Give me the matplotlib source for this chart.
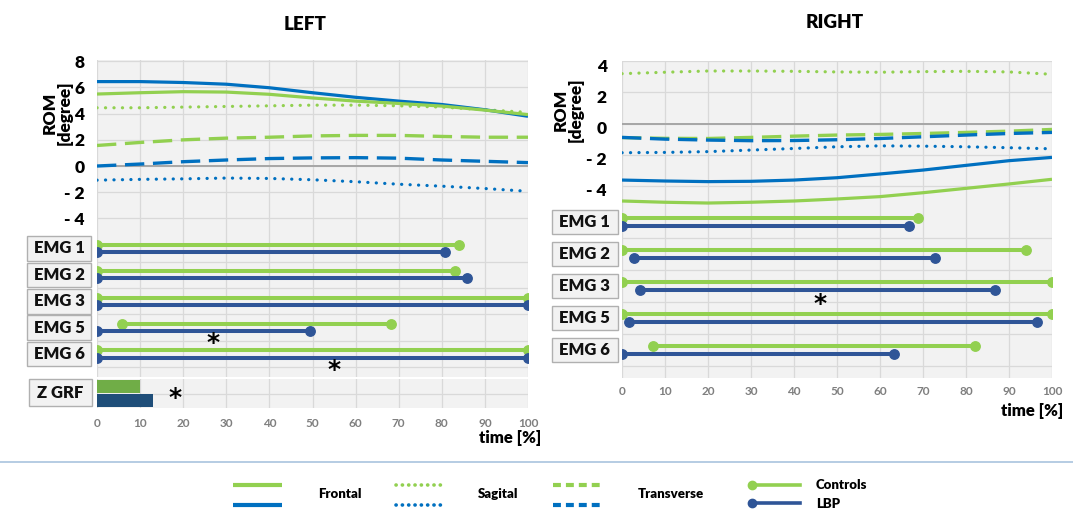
import matplotlib
matplotlib.use('Agg')
import matplotlib.pyplot as plt
from matplotlib.lines import Line2D
from matplotlib.patches import Rectangle
import matplotlib.transforms as mtransforms

plt.rcParams['font.family'] = ['Lato', 'DejaVu Sans']
BOLD = 'heavy'

# ---------------- data ----------------
time_pct = [0, 10, 20, 30, 40, 50, 60, 70, 80, 90, 100]

# LEFT ROM (degree)
left_frontal_controls = [5.50, 5.60, 5.68, 5.65, 5.48, 5.20, 4.96, 4.78, 4.58, 4.27, 3.93]
left_frontal_lbp = [6.45, 6.45, 6.38, 6.25, 5.98, 5.60, 5.25, 4.96, 4.70, 4.30, 3.80]
left_sagital_controls = [4.45, 4.45, 4.50, 4.55, 4.60, 4.65, 4.65, 4.60, 4.50, 4.30, 4.10]
left_sagital_lbp = [-1.08, -1.02, -0.98, -0.92, -0.95, -1.05, -1.20, -1.39, -1.54, -1.72, -1.93]
left_transverse_controls = [1.57, 1.80, 2.00, 2.13, 2.20, 2.30, 2.34, 2.34, 2.26, 2.20, 2.20]
left_transverse_lbp = [0.00, 0.15, 0.33, 0.46, 0.57, 0.62, 0.64, 0.60, 0.46, 0.36, 0.26]

# RIGHT ROM (degree)
right_frontal_controls = [-4.96, -5.04, -5.09, -5.04, -4.96, -4.83, -4.68, -4.43, -4.15, -3.87, -3.57]
right_frontal_lbp = [-3.62, -3.68, -3.72, -3.70, -3.62, -3.47, -3.23, -2.98, -2.68, -2.38, -2.17]
right_sagital_controls = [3.19, 3.28, 3.36, 3.36, 3.34, 3.30, 3.28, 3.32, 3.34, 3.30, 3.15]
right_sagital_lbp = [-1.87, -1.85, -1.80, -1.70, -1.60, -1.49, -1.43, -1.45, -1.49, -1.55, -1.62]
right_transverse_controls = [-0.90, -0.95, -0.96, -0.89, -0.81, -0.74, -0.70, -0.64, -0.57, -0.49, -0.38]
right_transverse_lbp = [-0.89, -1.00, -1.06, -1.10, -1.09, -1.04, -0.96, -0.85, -0.74, -0.64, -0.57]

emg_labels = ['EMG 1', 'EMG 2', 'EMG 3', 'EMG 5', 'EMG 6']
# (onset, offset) in % of time
left_emg_controls = [(0, 84.1), (0, 83.1), (0, 100), (5.9, 68.3), (0, 100)]
left_emg_lbp = [(0, 80.8), (0, 85.8), (0, 100), (0, 49.4), (0, 100)]
right_emg_controls = [(0, 68.8), (0, 94.0), (0, 100), (0, 100), (7.1, 82.2)]
right_emg_lbp = [(0, 66.7), (2.9, 72.9), (4.2, 86.7), (1.6, 96.4), (0, 63.2)]
# significance markers: (row index, time %)
left_emg_sig = [(3, 27.0), (4, 55.0)]
right_emg_sig = [(2, 46.0)]

zgrf_groups = ['Controls', 'LBP']
zgrf_values = [10, 13]
zgrf_sig_x = 18

ytick_left = [-4, -2, 0, 2, 4, 6, 8]
ytick_right = [-4, -2, 0, 2, 4]
xticks = list(range(0, 101, 10))

# ---------------- style ----------------
W, H = 1073, 512
GREEN = '#92d050'
BLUE = '#0070c0'
EMG_GREEN = '#92d050'
EMG_BLUE = '#2f5597'
Z_GREEN = '#70ad47'
Z_BLUE = '#1f4e79'
BG = '#f2f2f2'
GRID = '#d9d9d9'
ZERO = '#a6a6a6'
TICKGRAY = '#7f7f7f'

fig = plt.figure(figsize=(W / 100, H / 100), dpi=100)


def add_ax(x0, y0, x1, y1):
    ax = fig.add_axes([x0 / W, 1 - y1 / H, (x1 - x0) / W, (y1 - y0) / H])
    ax.set_facecolor(BG)
    for s in ax.spines.values():
        s.set_visible(False)
    ax.tick_params(length=0)
    ax.set_xlim(0, 100)
    ax.set_xticks(xticks)
    ax.grid(True, color=GRID, lw=0.9)
    ax.set_axisbelow(True)
    return ax


def star(ax, x, y, transform=None):
    tr = ax.transData if transform is None else transform
    tr = tr + mtransforms.ScaledTranslation(0, -7.5 / 72, fig.dpi_scale_trans)
    ax.text(x, y, '*', transform=tr, ha='center', va='baseline', fontsize=18,
            fontweight='bold', family='DejaVu Sans', color='black')


def fmt_deg(v):
    return '- %d' % (-v) if v < 0 else '%d' % v


def rom_panel(ax, series, ylim, yticks, pad):
    ax.set_ylim(*ylim)
    ax.set_yticks(yticks)
    ax.set_yticklabels([fmt_deg(v) for v in yticks], fontsize=12.5, fontweight=BOLD)
    ax.tick_params(axis='y', pad=pad)
    ax.set_xticklabels([])
    ax.axhline(0, color=ZERO, lw=1.4, zorder=1)
    fc, fl, sc, sl, tc, tl = series
    solid = dict(lw=2.3, solid_capstyle='butt')
    dotted = dict(lw=2.3, linestyle=(0, (0.05, 2.6)), dash_capstyle='round')
    dashed = dict(lw=2.4, linestyle=(0, (5.8, 2.6)), dash_capstyle='butt')
    ax.plot(time_pct, tc, color=GREEN, **dashed)
    ax.plot(time_pct, tl, color=BLUE, **dashed)
    ax.plot(time_pct, sc, color=GREEN, **dotted)
    ax.plot(time_pct, sl, color=BLUE, **dotted)
    ax.plot(time_pct, fl, color=BLUE, **solid)
    ax.plot(time_pct, fc, color=GREEN, **solid)


def emg_panel(ax, controls, lbp, sig, ylim, off, box_x, box_w, box_h, show_x):
    n = len(emg_labels)
    ax.set_ylim(*ylim)
    ax.set_yticks([i + 0.5 for i in range(n)])
    ax.set_yticklabels([])
    if not show_x:
        ax.set_xticklabels([])
    else:
        ax.set_xticklabels([str(v) for v in xticks], fontsize=8.5, color=TICKGRAY,
                           fontweight='bold')
        ax.tick_params(axis='x', pad=6)
    for i, ((cs, ce), (ls, le)) in enumerate(zip(controls, lbp)):
        ax.plot([cs, ce], [i - off, i - off], color=EMG_GREEN, lw=2.9, marker='o',
                ms=6.8, solid_capstyle='butt')
        ax.plot([ls, le], [i + off, i + off], color=EMG_BLUE, lw=2.9, marker='o',
                ms=6.8, solid_capstyle='butt')
    tr = mtransforms.blended_transform_factory(ax.transAxes, ax.transData)
    for i, lab in enumerate(emg_labels):
        ax.add_patch(Rectangle((box_x, i - box_h / 2), box_w, box_h, transform=tr,
                               clip_on=False, fc='#f2f2f2', ec='#b0b0b0', lw=1.0))
        ax.text(box_x + box_w / 2, i, lab, transform=tr, ha='center', va='center',
                fontsize=12, fontweight=BOLD, color='#111111')
    for row, x in sig:
        star(ax, x, row + 0.47)


# LEFT
axL = add_ax(97, 60, 528, 235)
rom_panel(axL, (left_frontal_controls, left_frontal_lbp, left_sagital_controls,
                left_sagital_lbp, left_transverse_controls, left_transverse_lbp),
          (-5.27, 8.1), ytick_left, 9)

axLE = add_ax(97, 235, 528, 377)
emg_panel(axLE, left_emg_controls, left_emg_lbp, left_emg_sig, (4.87, -0.51), 0.135,
          -0.162, 0.1485, 0.93, False)

axZ = add_ax(97, 379, 528, 408)
axZ.set_ylim(1.5, -0.5)
axZ.set_yticks([0.5])
axZ.set_yticklabels([])
axZ.set_xticklabels([str(v) for v in xticks], fontsize=8.5, color=TICKGRAY, fontweight='bold')
axZ.tick_params(axis='x', pad=7)
axZ.barh([0, 1], zgrf_values, height=0.93, color=[Z_GREEN, Z_BLUE], zorder=3)
star(axZ, zgrf_sig_x, 0.55)
axZ.add_patch(Rectangle((-0.158, 0.08), 0.146, 0.93, transform=axZ.transAxes,
                        clip_on=False, fc='#f2f2f2', ec='#b0b0b0', lw=1.0))
axZ.text(-0.085, 0.53, 'Z GRF', transform=axZ.transAxes, ha='center', va='center',
         fontsize=12, fontweight=BOLD, color='#111111')

# RIGHT
axR = add_ax(622, 61, 1052, 206)
rom_panel(axR, (right_frontal_controls, right_frontal_lbp, right_sagital_controls,
                right_sagital_lbp, right_transverse_controls, right_transverse_lbp),
          (-5.28, 4.0), ytick_right, 11)
for lab in axR.get_yticklabels():
    lab.set_transform(lab.get_transform() + mtransforms.ScaledTranslation(0, -4 / 100, fig.dpi_scale_trans))

axRE = add_ax(622, 206, 1052, 378)
emg_panel(axRE, right_emg_controls, right_emg_lbp, right_emg_sig, (4.875, -0.5), 0.14,
          -0.163, 0.1535, 0.75, True)

# ---------------- texts ----------------
def fx(x):
    return x / W


def fy(y):
    return 1 - y / H


fig.text(fx(305), fy(24), 'LEFT', ha='center', va='center', fontsize=13.5, fontweight=BOLD)
fig.text(fx(835), fy(22), 'RIGHT', ha='center', va='center', fontsize=13.5, fontweight=BOLD)
fig.text(fx(57), fy(113), 'ROM\n[degree]', ha='center', va='center', rotation=90,
         fontsize=12.5, fontweight=BOLD, linespacing=0.95)
fig.text(fx(568), fy(110), 'ROM\n[degree]', ha='center', va='center', rotation=90,
         fontsize=12.5, fontweight=BOLD, linespacing=0.95)
fig.text(fx(541), fy(438), 'time [%]', ha='right', va='center', fontsize=12, fontweight=BOLD)
fig.text(fx(1063), fy(411), 'time [%]', ha='right', va='center', fontsize=12, fontweight=BOLD)

# separator
fig.add_artist(Line2D([0, 1], [fy(462), fy(462)], transform=fig.transFigure,
                      color='#a9c4de', lw=1.2))

# ---------------- legend ----------------
def leg_line(x0, x1, y, color, **kw):
    fig.add_artist(Line2D([fx(x0), fx(x1)], [fy(y), fy(y)], transform=fig.transFigure,
                          color=color, **kw))


sol = dict(lw=3.0, solid_capstyle='butt')
dot = dict(lw=2.6, linestyle=(0, (0.05, 1.7)), dash_capstyle='round')
das = dict(lw=3.0, linestyle=(0, (1.9, 1.2)), dash_capstyle='butt')
leg_line(233, 282, 485, GREEN, **sol)
leg_line(233, 282, 505, BLUE, **sol)
leg_line(396, 445, 485, GREEN, **dot)
leg_line(396, 445, 505, BLUE, **dot)
leg_line(553, 600, 485, GREEN, **das)
leg_line(553, 600, 505, BLUE, **das)
fig.add_artist(Line2D([fx(752), fx(800)], [fy(485), fy(485)], transform=fig.transFigure,
                      color=EMG_GREEN, lw=2.6, marker='o', ms=6, markevery=[0]))
fig.add_artist(Line2D([fx(752), fx(800)], [fy(503), fy(503)], transform=fig.transFigure,
                      color=EMG_BLUE, lw=2.6, marker='o', ms=6, markevery=[0]))
fig.text(fx(318), fy(494), 'Frontal', ha='left', va='center', fontsize=9.5, fontweight=BOLD)
fig.text(fx(478), fy(494), 'Sagital', ha='left', va='center', fontsize=9.5, fontweight=BOLD)
fig.text(fx(638), fy(494), 'Transverse', ha='left', va='center', fontsize=9.5, fontweight=BOLD)
fig.text(fx(816), fy(485), 'Controls', ha='left', va='center', fontsize=9.5, fontweight=BOLD)
fig.text(fx(816), fy(504), 'LBP', ha='left', va='center', fontsize=9.5, fontweight=BOLD)

fig.savefig('out.png', dpi=100, facecolor='white')
